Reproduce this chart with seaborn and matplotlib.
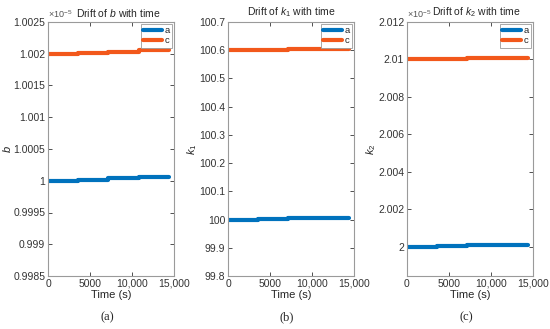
import numpy as np
import pandas as pd
import matplotlib
matplotlib.use("Agg")
import matplotlib.pyplot as plt
import seaborn as sns

# Data (values in plot units; panels a and c are scaled by 1e-5)
time_s = [0, 3600, 7200, 10800, 14400]
b_a = [1.0, 1.000015, 1.00004, 1.000055, 1.000055]
b_c = [1.002, 1.002015, 1.00203, 1.002055, 1.002055]
k1_a = [100.0, 100.002, 100.004, 100.007, 100.007]
k1_c = [100.6, 100.602, 100.604, 100.606, 100.606]
k2_a = [2.0, 2.00003, 2.00006, 2.00009, 2.00009]
k2_c = [2.01, 2.01003, 2.01006, 2.01009, 2.01009]

x_ticks = [0, 5000, 10000, 15000]
x_ticklabels = ["0", "5000", "10,000", "15,000"]

sns.set_style("ticks")
plt.rcParams["font.family"] = ["Liberation Sans", "DejaVu Sans"]
plt.rcParams["mathtext.fontset"] = "custom"
plt.rcParams["mathtext.it"] = "Liberation Sans:italic"
plt.rcParams["mathtext.rm"] = "Liberation Sans"

palette = {"a": "#0072BD", "c": "#F2581B"}

panels = [
    (b_a, b_c, "$b$", "Drift of $b$ with time", (0.9985, 1.0025),
     [0.9985, 0.999, 0.9995, 1.0, 1.0005, 1.001, 1.0015, 1.002, 1.0025],
     ["0.9985", "0.999", "0.9995", "1", "1.0005", "1.001", "1.0015", "1.002", "1.0025"],
     True, "(a)"),
    (k1_a, k1_c, "$k_1$", "Drift of $k_1$ with time", (99.8, 100.7),
     [99.8, 99.9, 100.0, 100.1, 100.2, 100.3, 100.4, 100.5, 100.6, 100.7],
     ["99.8", "99.9", "100", "100.1", "100.2", "100.3", "100.4", "100.5", "100.6", "100.7"],
     False, "(b)"),
    (k2_a, k2_c, "$k_2$", "Drift of $k_2$ with time", (1.99843, 2.012),
     [2.0, 2.002, 2.004, 2.006, 2.008, 2.01, 2.012],
     ["2", "2.002", "2.004", "2.006", "2.008", "2.01", "2.012"],
     True, "(c)"),
]

lefts = [48, 228, 407]
title_shift = [0.06, 0.0, 0.05]
width = 126
fig = plt.figure(figsize=(5.5, 3.29), dpi=100)

for (ya, yc, ylab, title, ylim, yt, ytl, offset, cap), left, ts in zip(panels, lefts, title_shift):
    ax = fig.add_axes([left / 550, 1 - 276 / 329, width / 550, (276 - 22) / 329])
    df = pd.DataFrame({
        "time": time_s * 2,
        "value": ya + yc,
        "series": ["a"] * len(ya) + ["c"] * len(yc),
    })
    sns.lineplot(data=df, x="time", y="value", hue="series", palette=palette,
                 drawstyle="steps-post", linewidth=3.0, ax=ax, estimator=None)
    ax.set_xlim(0, 15000)
    ax.set_ylim(*ylim)
    ax.set_xticks(x_ticks)
    ax.set_xticklabels(x_ticklabels)
    ax.set_yticks(yt)
    ax.set_yticklabels(ytl)
    ax.tick_params(direction="in", length=3, width=0.6, labelsize=7.5,
                   top=True, right=True, colors="#333333", pad=2)
    for s in ax.spines.values():
        s.set_color("#9a9a9a")
        s.set_linewidth(0.8)
    ax.set_xlabel("Time (s)", fontsize=8, labelpad=1)
    ax.set_ylabel(ylab, fontsize=8, labelpad=0)
    ax.text(0.5 + ts, 1.012, title, transform=ax.transAxes, fontsize=7.5,
            ha="center", va="bottom")
    if offset:
        ax.text(0.0, 1.008, r"$\times10^{-5}$", transform=ax.transAxes,
                fontsize=6.5, color="#555555", ha="left", va="bottom")
    leg = ax.legend(loc="upper right", fontsize=6.8, handlelength=2.0,
                    handletextpad=0.25, borderpad=0.25, labelspacing=0.1,
                    fancybox=False, framealpha=1, borderaxespad=0.2)
    leg.get_frame().set_edgecolor("#9a9a9a")
    leg.get_frame().set_linewidth(0.6)
    fig.text((left + width / 2 - 4) / 550, 1 - 317 / 329, cap,
             family="Liberation Serif", fontsize=9, ha="center", va="center")

fig.savefig("out.png", dpi=100)
